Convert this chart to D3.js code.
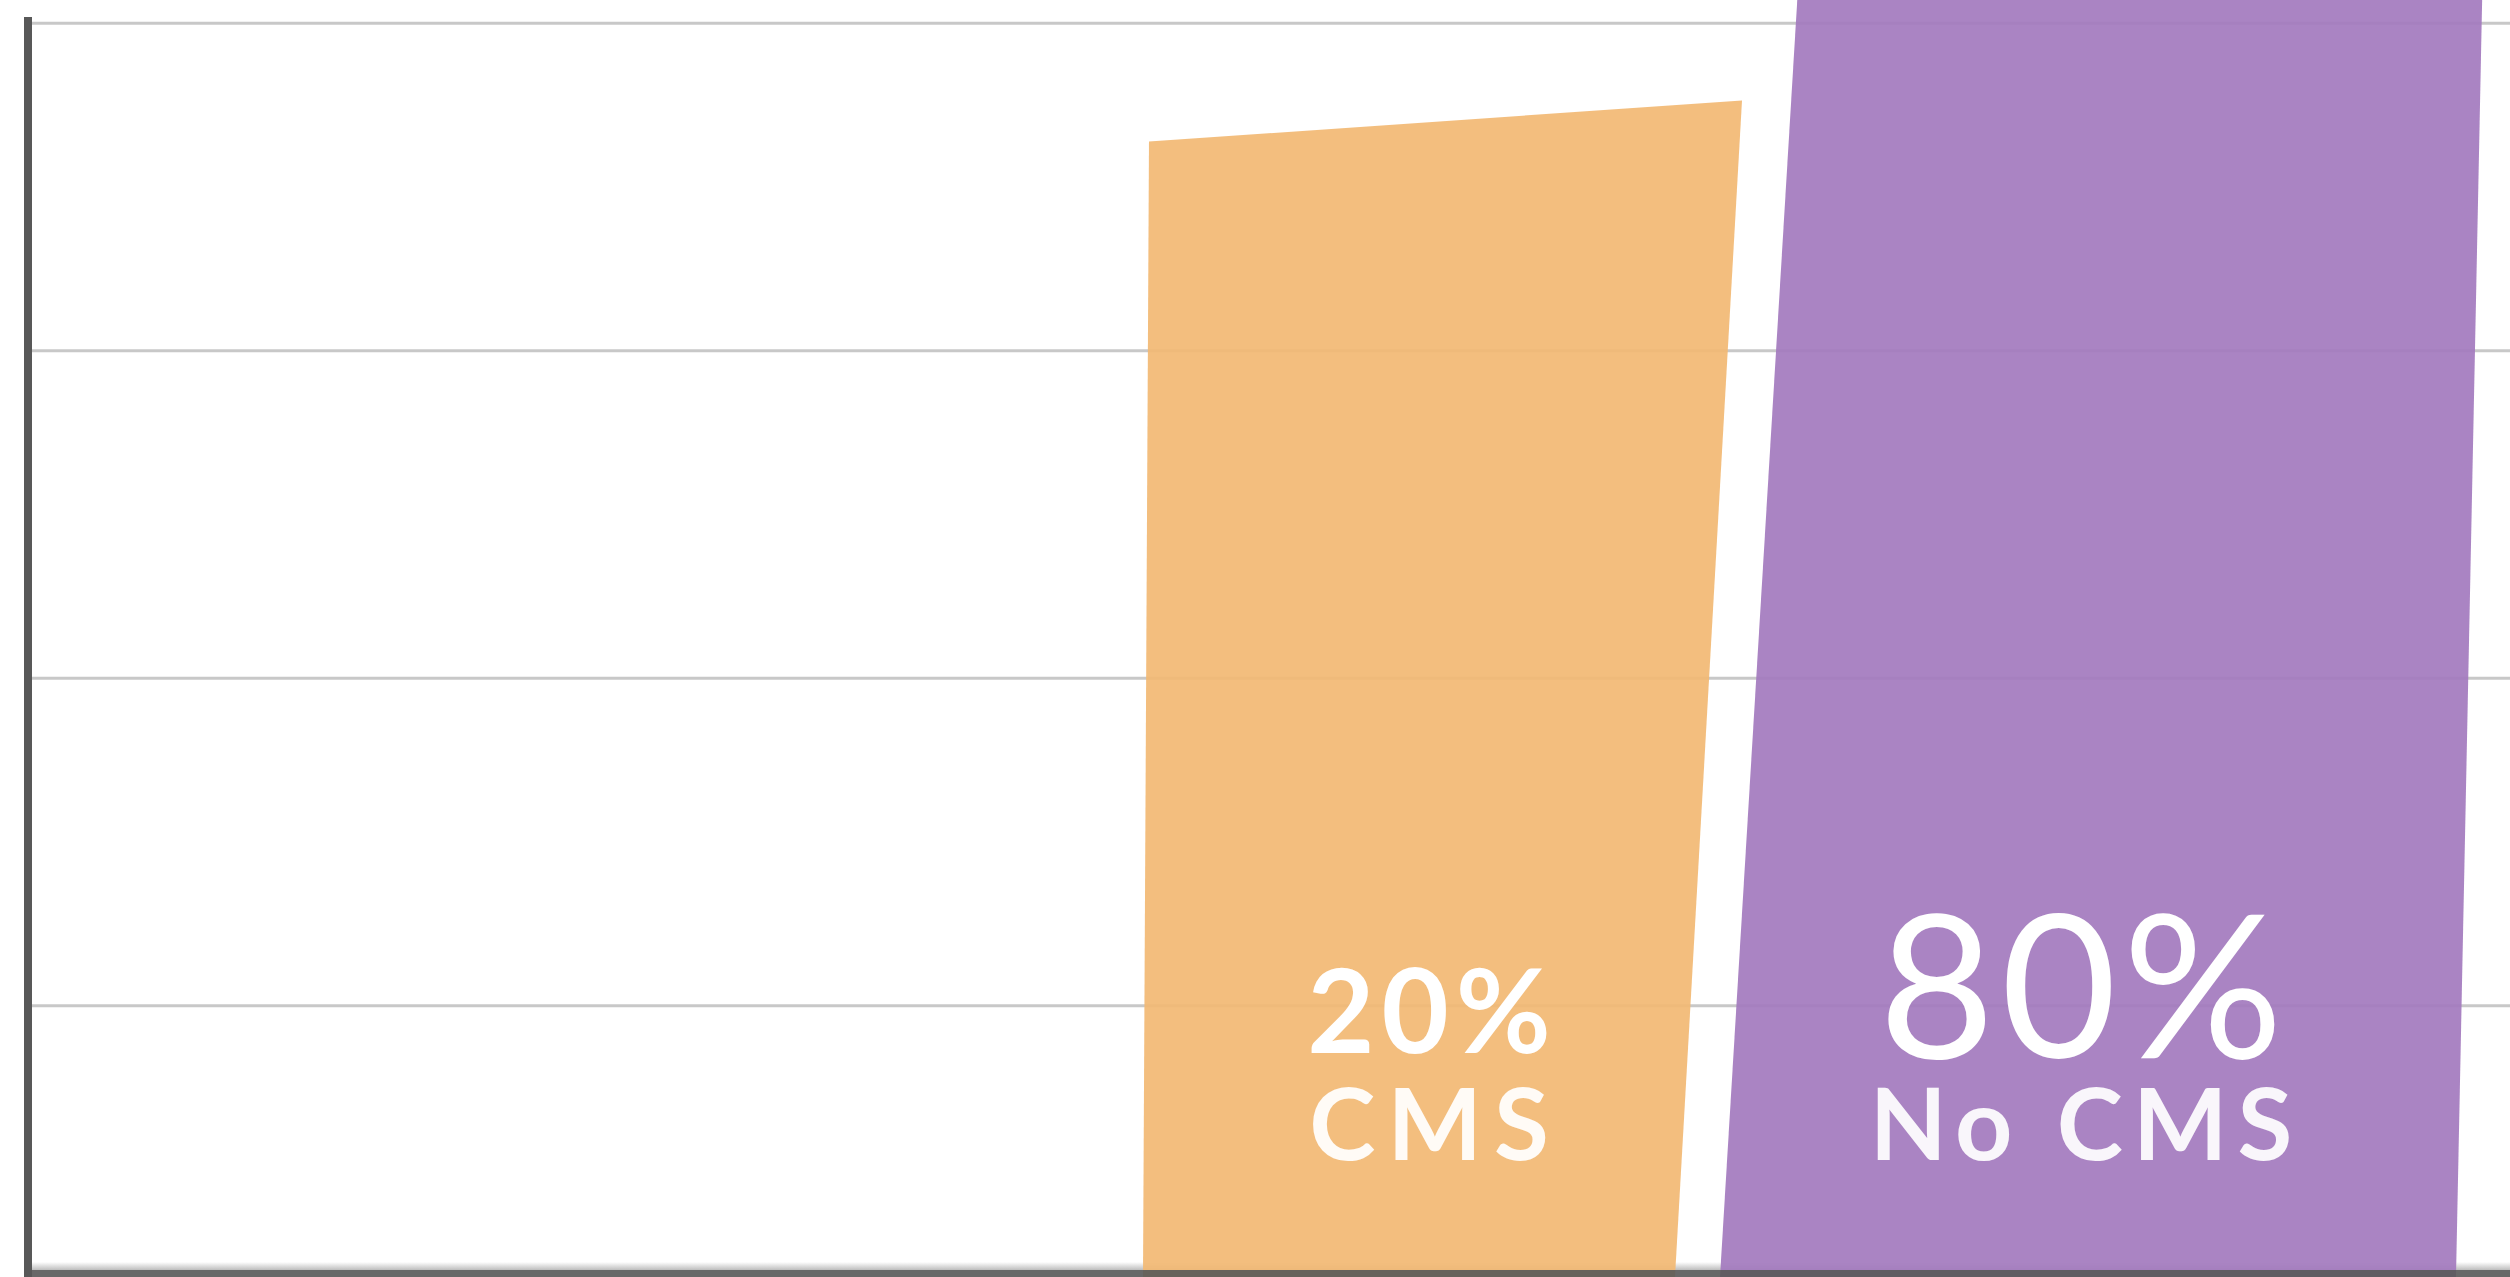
<!DOCTYPE html>
<html>
<head>
<meta charset="utf-8">
<script src="https://cdn.jsdelivr.net/npm/d3@7/dist/d3.min.js"></script>
<style>
  html, body { margin: 0; padding: 0; background: #ffffff; overflow: hidden; }
  svg { display: block; }
  text { font-family: Lato, "Open Sans", sans-serif; }
</style>
</head>
<body>
<svg id="chart"></svg>
<script>
// Share of sites by content-management setup
const categories = ["CMS", "No CMS"];
const shares = [20, 80];
const valueLabels = ["20%", "80%"];
const nameLabels = ["CMS", "No CMS"];
// Horizontal guide lines, in the same units as the shares
const gridTicks = [4.6, 10.3, 16.0, 21.7];

const W = 2510, H = 1277;
const baseY = 1270, axisX = 28;

const svg = d3.select("#chart").attr("width", W).attr("height", H);

const y = d3.scaleLinear().domain([0, 20]).range([baseY, 121]);
const x = d3.scaleBand().domain(categories).range([1143, 2456]).paddingInner(0.0663);

const colors = { "CMS": "#f2b873", "No CMS": "#a379be" };

// Each bar leans to the right; the shared inner edges sit left of the band split
const shape = {
  "CMS":    { dl: 0,    dr: -102, leanL: 0.0053, leanR: 0.0573, tilt: 20.5 },
  "No CMS": { dl: -102, dr: 0,    leanL: 0.0606, leanR: 0.0205, tilt: 20.5 }
};

// gridlines
svg.append("g")
  .selectAll("line")
  .data(gridTicks)
  .join("line")
  .attr("x1", axisX)
  .attr("x2", W)
  .attr("y1", d => y(d))
  .attr("y2", d => y(d))
  .attr("stroke", "#c8c8c8")
  .attr("stroke-width", 3);

// soft shading just above the baseline
const grad = svg.append("defs").append("linearGradient")
  .attr("id", "baseShade").attr("x1", 0).attr("x2", 0).attr("y1", 0).attr("y2", 1);
grad.append("stop").attr("offset", 0).attr("stop-color", "#ffffff");
grad.append("stop").attr("offset", 1).attr("stop-color", "#bdbdbd");
svg.append("rect")
  .attr("x", axisX).attr("y", baseY - 8)
  .attr("width", W - axisX).attr("height", 8)
  .attr("fill", "url(#baseShade)");

const data = categories.map((c, i) => ({ cat: c, value: shares[i], vl: valueLabels[i], nl: nameLabels[i] }));

function barPoints(d) {
  const s = shape[d.cat];
  const x0 = x(d.cat) + s.dl;
  const x1 = x(d.cat) + x.bandwidth() + s.dr;
  const yt = y(d.value);
  const yl = yt + s.tilt, yr = yt - s.tilt;
  return [
    [x0, H],
    [x0 + s.leanL * (baseY - yl), yl],
    [x1 + s.leanR * (baseY - yr), yr],
    [x1, H]
  ];
}

svg.append("g")
  .selectAll("polygon")
  .data(data)
  .join("polygon")
  .attr("points", d => barPoints(d).map(p => p.join(",")).join(" "))
  .attr("fill", d => colors[d.cat])
  .attr("fill-opacity", 0.92);

// axes
svg.append("rect")
  .attr("x", axisX).attr("y", baseY)
  .attr("width", W - axisX).attr("height", H - baseY)
  .attr("fill", "#585858").attr("fill-opacity", 0.9);
svg.append("rect")
  .attr("x", axisX - 4).attr("y", 17)
  .attr("width", 8).attr("height", H - 17)
  .attr("fill", "#585858");

// labels inside the bars: value on the first line, category below
const labelStyle = {
  "CMS":    { cx: 1429, vSize: 116, vWeight: 700, vY: 1053, vSpacing: 7, nSize: 100, nY: 1160, nSpacing: 12 },
  "No CMS": { cx: 2081, vSize: 200, vWeight: 400, vY: 1058, vSpacing: 6, nSize: 100, nY: 1160, nSpacing: 10 }
};

const labels = svg.append("g").selectAll("text").data(data).join("text")
  .attr("text-anchor", "middle")
  .attr("fill", "#ffffff");
labels.append("tspan")
  .attr("x", d => labelStyle[d.cat].cx + labelStyle[d.cat].vSpacing / 2)
  .attr("y", d => labelStyle[d.cat].vY)
  .attr("font-size", d => labelStyle[d.cat].vSize)
  .attr("font-weight", d => labelStyle[d.cat].vWeight)
  .attr("letter-spacing", d => labelStyle[d.cat].vSpacing)
  .text(d => d.vl);
labels.append("tspan")
  .attr("x", d => labelStyle[d.cat].cx + labelStyle[d.cat].nSpacing / 2)
  .attr("y", d => labelStyle[d.cat].nY)
  .attr("font-size", d => labelStyle[d.cat].nSize)
  .attr("font-weight", 700)
  .attr("letter-spacing", d => labelStyle[d.cat].nSpacing)
  .attr("fill-opacity", 0.93)
  .text(d => d.nl);
</script>
</body>
</html>
